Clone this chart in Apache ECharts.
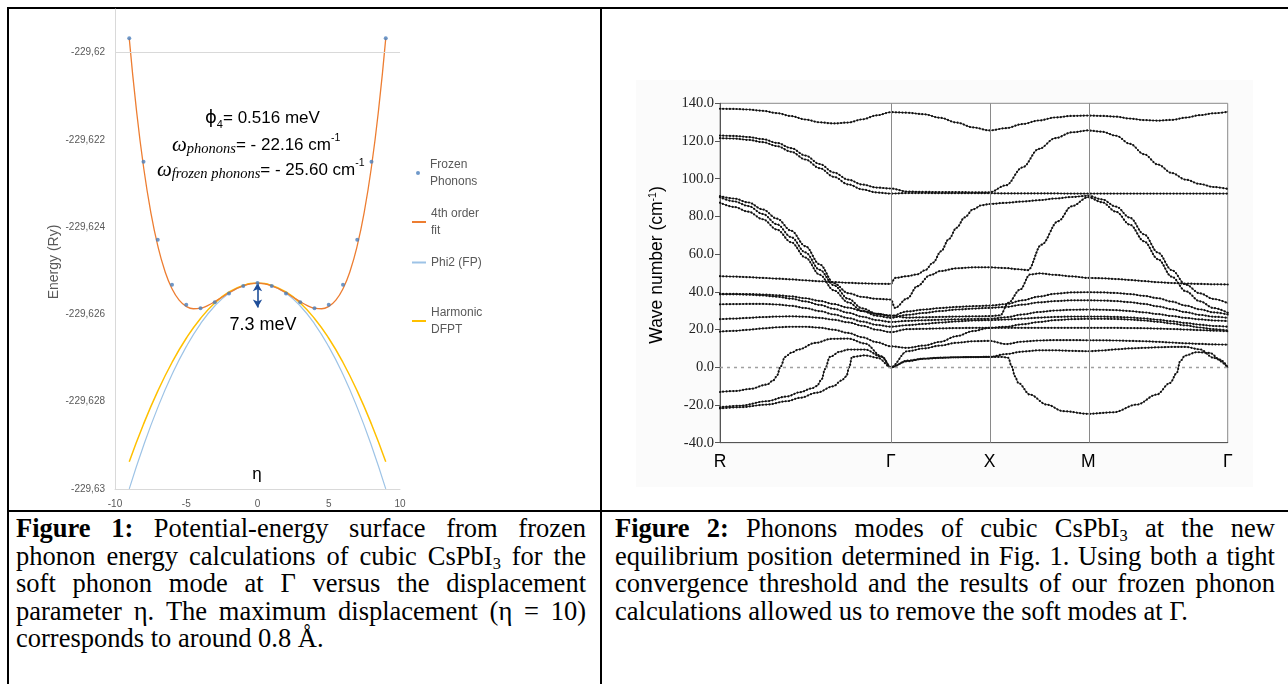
<!DOCTYPE html>
<html>
<head>
<meta charset="utf-8">
<script src="https://cdn.jsdelivr.net/npm/echarts@6/dist/echarts.min.js"></script>
<style>
html,body{margin:0;padding:0;background:#fff;width:1288px;height:684px;overflow:hidden;position:relative;}
#chart{position:absolute;left:0;top:0;width:1288px;height:510px;}
.bd{position:absolute;background:#000;}
.cap{position:absolute;font-family:'Liberation Serif','Times New Roman',serif;font-size:26.5px;line-height:27.6px;color:#000;}
.cap .j{text-align:justify;text-align-last:justify;}
.cap sub{font-size:0.62em;vertical-align:-0.22em;line-height:0;}
</style>
</head>
<body>
<div class="bd" style="left:7px;top:7px;width:2px;height:700px"></div>
<div class="bd" style="left:7px;top:7px;width:1300px;height:2px"></div>
<div class="bd" style="left:600px;top:7px;width:2px;height:700px"></div>
<div class="bd" style="left:7px;top:510px;width:1300px;height:2px"></div>
<div id="chart"></div>
<div class="cap" style="left:16px;top:515px;width:570px">
<div class="j"><b>Figure 1:</b> Potential-energy surface from frozen</div>
<div class="j">phonon energy calculations of cubic CsPbI<sub>3</sub> for the</div>
<div class="j">soft phonon mode at Γ versus the displacement</div>
<div class="j">parameter η. The maximum displacement (η = 10)</div>
<div>corresponds to around 0.8 Å.</div>
</div>
<div class="cap" style="left:615px;top:515px;width:660px">
<div class="j"><b>Figure 2:</b> Phonons modes of cubic CsPbI<sub>3</sub> at the new</div>
<div class="j">equilibrium position determined in Fig. 1. Using both a tight</div>
<div class="j">convergence threshold and the results of our frozen phonon</div>
<div>calculations allowed us to remove the soft modes at Γ.</div>
</div>
<script>
// ---------- Figure 1 data (energy in Ry vs displacement eta) ----------
const etaPoints = [-9,-8,-7,-6,-5,-4,-3,-2,-1,0,1,2,3,4,5,6,7,8,9];
const frozenE = [-229.61967,-229.62250,-229.62429,-229.62532,-229.62578,-229.62586,-229.62572,-229.62552,-229.62535,-229.62528,
                 -229.62535,-229.62552,-229.62572,-229.62586,-229.62578,-229.62532,-229.62429,-229.62250,-229.61967];
const fitEta = [-9,-8.5,-8,-7.5,-7,-6.5,-6,-5.5,-5,-4.5,-4,-3.5,-3,-2.5,-2,-1.5,-1,-0.5,0,
                0.5,1,1.5,2,2.5,3,3.5,4,4.5,5,5.5,6,6.5,7,7.5,8,8.5,9];
const fitE = [-229.619672,-229.621299,-229.622609,-229.623637,-229.624424,-229.625003,-229.625409,-229.625670,-229.625815,
              -229.625869,-229.625856,-229.625796,-229.625707,-229.625605,-229.625504,-229.625414,-229.625343,-229.625298,-229.625283,
              -229.625298,-229.625343,-229.625414,-229.625504,-229.625605,-229.625707,-229.625796,-229.625856,-229.625869,
              -229.625815,-229.625670,-229.625409,-229.625003,-229.624424,-229.623637,-229.622609,-229.621299,-229.619672];
const phi2E = [-229.629997,-229.629008,-229.628135,-229.627378,-229.626738,-229.626214,-229.625807,-229.625516,-229.625341,-229.625283,
               -229.625341,-229.625516,-229.625807,-229.626214,-229.626738,-229.627378,-229.628135,-229.629008,-229.629997];
const harmE = [-229.629374,-229.628515,-229.627758,-229.627101,-229.626546,-229.626091,-229.625738,-229.625485,-229.625334,-229.625283,
               -229.625334,-229.625485,-229.625738,-229.626091,-229.626546,-229.627101,-229.627758,-229.628515,-229.629374];
const leftYTicks = [-229.63,-229.628,-229.626,-229.624,-229.622,-229.62];
const leftXTicks = [-10,-5,0,5,10];
const arrowTop = -229.625283, arrowBottom = -229.62584;

// ---------- Figure 2 data (wave number cm-1 along R-Γ-X-M-Γ) ----------
const kTicks = [0, 0.866, 1.366, 1.866, 2.573];
const kLabels = ['R','Γ','X','M','Γ'];
const kSeg1 = [0,0.072,0.144,0.217,0.289,0.361,0.433,0.505,0.577,0.650,0.722,0.794,0.866];
const kSeg2 = [0.949,1.033,1.116,1.199,1.283,1.366];
const kSeg3 = [1.449,1.533,1.616,1.699,1.783,1.866];
const kSeg4 = [1.937,2.007,2.078,2.149,2.220,2.290,2.361,2.432,2.502,2.573];
const kGrid = kSeg1.concat(kSeg2, kSeg3, kSeg4);

const bandT1 = [137.1,137.0,136.7,136.0,134.8,133.2,131.4,129.9,129.3,129.8,131.5,133.6,135.3,
                135.0,134.2,132.3,129.8,127.2,125.6, 126.8,129.0,130.9,132.5,133.3,133.5,
                133.3,132.9,131.9,131.1,130.8,131.2,132.4,133.7,134.7,135.5];
const bandU1 = [122.9,122.7,122.1,121.0,119.0,116.2,112.3,107.8,103.3,99.5,96.9,95.3,94.8,
                93.2,93.0,92.9,92.9,92.8,92.8, 96.5,106.0,115.8,121.5,124.6,125.6,
                124.9,122.8,118.5,113.0,107.5,103.0,99.5,97.2,95.6,94.6];
const bandU2 = [121.5,121.3,120.6,119.4,117.3,114.3,110.2,105.6,101.0,97.0,94.3,92.7,92.1,
                92.4,92.4,92.3,92.3,92.3,92.3, 92.2,92.2,92.2,92.2,92.1,92.1,
                92.1,92.1,92.1,92.1,92.1,92.1,92.1,92.1,92.1,92.1];
const bandM2 = [90.2,88.0,85.5,81.3,75.8,69.0,60.9,51.7,43.5,36.3,31.2,28.4,27.1,
                29.6,30.6,31.4,32.0,32.4,32.7, 33.5,35.5,37.5,39.0,39.7,39.8,
                39.7,39.4,38.8,37.9,36.6,34.8,32.7,30.7,29.1,28.0];
const bandM3 = [87.3,85.0,82.5,78.5,73.0,66.3,58.2,49.1,40.8,34.4,29.8,27.3,26.2,
                27.8,28.8,29.8,30.6,31.1,31.5, 32.0,33.2,34.4,35.1,35.5,35.5,
                35.4,35.1,34.5,33.6,32.3,30.8,29.2,27.8,26.8,26.2];
const bandL39b = [38.7,38.7,38.5,38.1,37.4,36.4,34.9,33.1,31.0,28.9,26.8,25.0,24.0,
                  24.6,24.9,25.2,25.4,25.6,25.7, 26.5,28.0,29.3,30.1,30.5,30.6,
                  30.5,30.3,29.8,29.1,28.2,27.2,26.2,25.4,24.8,24.5];
const bandL33 = [33.4,33.5,33.6,33.6,33.3,32.6,31.4,29.8,28.0,26.1,24.2,22.5,21.5,
                 22.3,23.0,23.7,24.3,24.8,25.0, 25.3,25.8,26.3,26.7,26.9,26.9,
                 26.9,26.7,26.4,25.9,25.2,24.4,23.5,22.6,21.9,21.5];
const bandL25 = [25.5,25.8,26.2,26.6,26.9,27.0,26.8,26.2,25.2,23.8,22.0,19.9,18.6,
                 20.2,20.4,20.6,20.8,20.9,20.9, 21.5,22.8,24.0,25.0,25.5,25.7,
                 25.7,25.6,25.3,24.8,24.1,23.2,22.2,21.1,20.2,19.5];
const bandL19 = [18.9,19.3,19.9,20.6,21.2,21.5,21.5,21.0,19.9,18.2,15.9,13.3,11.1,
                 10.3,11.5,13.5,16.5,19.2,20.9, 20.9,20.9,20.9,20.9,20.9,20.9,
                 20.9,20.9,20.8,20.7,20.5,20.3,20.0,19.7,19.4,19.1];

const bandB48 = [[0,48.3],[0.072,48.1],[0.144,47.8],[0.217,47.4],[0.289,47.0],[0.361,46.6],[0.433,46.1],[0.505,45.6],
  [0.577,45.2],[0.650,44.8],[0.722,44.5],[0.794,44.3],[0.866,44.2],[0.887,47.4],[0.949,48.3],[1.000,49.3],[1.040,51.5],
  [1.080,55.5],[1.120,61.5],[1.160,68.0],[1.199,74.0],[1.240,79.5],[1.283,83.8],[1.325,85.9],[1.366,86.6],
  [1.449,87.2],[1.533,87.9],[1.616,88.6],[1.699,89.5],[1.783,90.3],
  [1.866,91.0],[1.937,89.0],[2.007,85.2],[2.078,79.3],[2.149,70.5],[2.220,60.8],[2.290,51.5],[2.361,43.8],[2.432,39.2],
  [2.502,36.2],[2.573,34.0]];
const bandM1 = [[0,90.8],[0.072,89.5],[0.144,87.4],[0.217,83.7],[0.289,78.8],[0.361,72.4],[0.433,64.2],[0.505,54.6],
  [0.577,44.6],[0.650,39.3],[0.722,37.3],[0.794,36.3],[0.866,35.9],[0.887,31.5],[0.949,36.5],[1.000,43.0],[1.064,48.8],
  [1.116,51.0],[1.199,52.5],[1.283,53.0],[1.366,53.0],[1.449,52.6],[1.510,52.0],[1.561,51.5],[1.629,65.0],[1.714,77.5],
  [1.782,85.4],[1.866,90.2],[1.937,87.5],[2.007,82.5],[2.078,75.6],[2.149,66.8],[2.220,57.3],[2.290,48.0],[2.361,40.3],
  [2.432,35.0],[2.502,31.4],[2.573,28.9]];
const bandL39a = [[0,38.9],[0.072,38.9],[0.144,38.8],[0.217,38.6],[0.289,38.2],[0.361,37.6],[0.433,36.6],[0.505,35.2],
  [0.577,33.5],[0.650,31.6],[0.722,29.8],[0.794,28.3],[0.866,27.5],[0.949,26.3],[1.033,26.5],[1.116,26.7],[1.199,26.9],
  [1.283,27.0],[1.366,27.1],[1.420,27.5],[1.461,34.2],[1.521,41.2],[1.571,49.2],[1.620,49.8],[1.700,49.0],[1.783,48.2],
  [1.866,47.4],[1.937,47.2],[2.007,46.8],[2.078,46.3],[2.149,45.7],[2.220,45.1],[2.290,44.7],[2.361,44.4],[2.432,44.2],
  [2.502,44.0],[2.573,43.9]];
const bandN13 = [[0,-13.1],[0.076,-12.6],[0.152,-11.5],[0.237,-9.2],[0.270,-7.0],[0.287,-4.8],[0.308,0.5],[0.329,5.5],
  [0.363,7.8],[0.397,9.4],[0.482,12.9],[0.566,15.1],[0.650,15.2],[0.735,12.6],[0.820,5.8],[0.866,0],
  [0.949,3.5],[1.033,4.6],[1.116,5.1],[1.199,5.3],[1.283,5.4],[1.366,5.5],[1.449,7.0],[1.533,8.3],[1.616,9.0],
  [1.699,9.0],[1.783,8.7],[1.866,8.5],[1.937,8.9],[2.007,9.5],[2.078,10.0],[2.149,10.3],[2.220,10.6],[2.290,10.8],
  [2.361,10.8],[2.432,9.5],[2.502,5.0],[2.573,0]];
const bandN21a = [[0,-21.2],[0.101,-20.4],[0.236,-18.0],[0.338,-15.5],[0.406,-13.2],[0.465,-11.2],[0.490,-10.0],
  [0.515,-6.5],[0.532,-1.0],[0.557,5.5],[0.608,8.3],[0.650,9.4],[0.735,9.4],[0.820,5.5],[0.866,0],
  [0.949,3.2],[1.033,4.5],[1.116,5.0],[1.199,5.3],[1.283,5.4],[1.366,5.5],[1.432,5.5],[1.461,5.0],[1.478,0.5],
  [1.495,-4.8],[1.512,-8.3],[1.571,-14.5],[1.656,-19.8],[1.740,-23.3],[1.866,-24.7],[1.993,-23.9],[2.112,-19.8],
  [2.213,-14.5],[2.281,-8.3],[2.315,-3.0],[2.332,3.2],[2.357,6.2],[2.416,8.0],[2.483,7.6],[2.534,4.1],[2.573,0]];
const bandN21b = [[0,-21.8],[0.101,-21.2],[0.236,-19.8],[0.338,-18.0],[0.406,-16.2],[0.490,-13.5],[0.574,-10.1],
  [0.616,-7.0],[0.640,-4.8],[0.655,0.0],[0.669,5.5],[0.735,6.3],[0.800,5.0],[0.866,0],
  [0.949,8.5],[1.033,10.0],[1.116,11.5],[1.199,13.0],[1.283,13.8],[1.366,14.0],[1.449,12.3],[1.533,13.6],[1.616,14.2],
  [1.699,14.4],[1.783,14.4],[1.866,14.3],[1.937,14.3],[2.007,14.2],[2.078,14.0],[2.149,13.8],[2.220,13.5],[2.290,13.1],
  [2.361,12.7],[2.432,12.4],[2.502,12.1],[2.573,12.0]];
const rightYTicksMin = -40, rightYTicksMax = 140, rightYStep = 20;

// ---------- build ----------
const onGrid = vals => kGrid.map((k, i) => [k, vals[i]]);
const bands = [onGrid(bandT1), onGrid(bandU1), onGrid(bandU2), bandB48, bandM1, onGrid(bandM2), onGrid(bandM3),
  bandL39a, onGrid(bandL39b), onGrid(bandL33), onGrid(bandL25), onGrid(bandL19), bandN13, bandN21a, bandN21b];

const chart = echarts.init(document.getElementById('chart'));
const grayTxt = '#595959';
const narrow = "'Liberation Sans Narrow','Liberation Sans',Arial,sans-serif";
const sans = "'Liberation Sans',Arial,sans-serif";
const serif = "'Liberation Serif','Times New Roman',serif";

function fmtRy(v) {
  const n = (v - leftYTicks[0]) / 0.002;
  if (Math.abs(n - Math.round(n)) > 1e-4) return '';
  return String(+v.toFixed(3)).replace('.', ',');
}

const series = [];
series.push({type:'line', xAxisIndex:0, yAxisIndex:0, data:[[0, leftYTicks[0]]], showSymbol:false, z:1, silent:true,
  lineStyle:{opacity:0},
  markLine:{silent:true, symbol:['none','none'], label:{show:false}, animation:false,
    lineStyle:{color:'#d9d9d9', width:1, type:'solid'},
    data: leftYTicks.slice(1).map(v => ({yAxis: v}))}});
series.push({name:'Phi2 (FP)', type:'line', xAxisIndex:0, yAxisIndex:0, smooth:true, symbol:'none', z:2,
  data: etaPoints.map((e,i)=>[e, phi2E[i]]), lineStyle:{color:'#9dc3e6', width:1.2}, itemStyle:{color:'#9dc3e6'}});
series.push({name:'Harmonic DFPT', type:'line', xAxisIndex:0, yAxisIndex:0, smooth:true, symbol:'none', z:3,
  data: etaPoints.map((e,i)=>[e, harmE[i]]), lineStyle:{color:'#ffc000', width:1.5}, itemStyle:{color:'#ffc000'}});
series.push({name:'4th order fit', type:'line', xAxisIndex:0, yAxisIndex:0, smooth:true, symbol:'none', z:4,
  data: fitEta.map((e,i)=>[e, fitE[i]]), lineStyle:{color:'#ed7d31', width:1.3}, itemStyle:{color:'#ed7d31'},
  markLine:{silent:true, symbol:['arrow','arrow'], symbolSize:[7,8], label:{show:false}, animation:false,
    lineStyle:{color:'#1f4e99', width:1.6, type:'solid'},
    data:[[{coord:[0, arrowTop]},{coord:[0, arrowBottom]}]]}});
series.push({name:'Frozen Phonons', type:'scatter', xAxisIndex:0, yAxisIndex:0, symbol:'circle', symbolSize:4, z:5,
  data: etaPoints.map((e,i)=>[e, frozenE[i]]), itemStyle:{color:'#4a7ebb'}});

series.push({type:'line', xAxisIndex:1, yAxisIndex:1, data:[[0,0]], showSymbol:false, z:1, silent:true,
  lineStyle:{opacity:0},
  markLine:{silent:true, symbol:['none','none'], label:{show:false}, animation:false,
    data: kTicks.slice(1, 4).map(k => ({xAxis:k, lineStyle:{color:'#8a8a8a', width:1, type:'solid'}}))
      .concat([{yAxis:0, lineStyle:{color:'#a0a0a0', width:1.3, type:[3,4]}}])}});
bands.forEach((d, i) => {
  series.push({name:'mode'+(i+1), type:'line', xAxisIndex:1, yAxisIndex:1, data:d, smooth:0.35, smoothMonotone:'x',
    symbol:'none', silent:true, z:3, lineStyle:{color:'#1c1c1c', width:0.9}});
  series.push({name:'mode'+(i+1)+'b', type:'line', xAxisIndex:1, yAxisIndex:1, data:d, smooth:0.35, smoothMonotone:'x',
    symbol:'none', silent:true, z:4, lineStyle:{color:'#111', width:2.2, type:[0.01,3.3], cap:'round'}});
});

const legendNames = {'Frozen Phonons':'Frozen\nPhonons','4th order fit':'4th order\nfit','Phi2 (FP)':'Phi2 (FP)','Harmonic DFPT':'Harmonic\nDFPT'};
const mkLegend = (name, left, top, icon, iw, ih) => ({data:[{name, icon}], left, top, orient:'vertical', padding:0,
  itemWidth:iw, itemHeight:ih, itemGap:0, selectedMode:false, formatter: n => legendNames[n],
  textStyle:{color:grayTxt, fontSize:12, lineHeight:17, fontFamily:sans}});

chart.setOption({
  animation:false,
  backgroundColor:'transparent',
  grid:[
    {left:115, top:9, width:285, height:480},
    {left:720, top:103.3, width:507.7, height:339.4, show:true, borderColor:'#8a8a8a', borderWidth:1, backgroundColor:'#fff'}
  ],
  xAxis:[
    {gridIndex:0, type:'value', min:leftXTicks[0], max:leftXTicks[leftXTicks.length-1], interval:5,
      axisLine:{show:true, onZero:false, lineStyle:{color:'#d9d9d9', width:1}}, axisTick:{show:false}, splitLine:{show:false},
      axisLabel:{color:grayTxt, fontSize:10, fontFamily:narrow, margin:10}},
    {gridIndex:1, type:'value', min:kTicks[0], max:kTicks[kTicks.length-1],
      axisLine:{show:true, onZero:false, lineStyle:{color:'#555', width:1}}, axisTick:{show:false}, splitLine:{show:false},
      axisLabel:{customValues:kTicks, color:'#000', fontSize:17.5, fontFamily:sans, margin:10,
        formatter: v => { const i = kTicks.findIndex(t => Math.abs(t - v) < 1e-3); return i >= 0 ? kLabels[i] : ''; }}}
  ],
  yAxis:[
    {gridIndex:0, type:'value', min:leftYTicks[0], max:-229.619, interval:0.002,
      axisLine:{show:true, onZero:false, lineStyle:{color:'#d9d9d9', width:1}}, axisTick:{show:false}, splitLine:{show:false},
      axisLabel:{color:grayTxt, fontSize:10, fontFamily:narrow, margin:10, formatter: fmtRy},
      name:'Energy (Ry)', nameLocation:'middle', nameGap:53, nameRotate:90,
      nameTextStyle:{color:grayTxt, fontSize:14, fontFamily:sans, padding:[0,26,0,0]}},
    {gridIndex:1, type:'value', min:rightYTicksMin, max:rightYTicksMax, interval:rightYStep,
      axisLine:{show:true, onZero:false, lineStyle:{color:'#555', width:1}},
      axisTick:{show:true, length:5, lineStyle:{color:'#555'}}, splitLine:{show:false},
      axisLabel:{color:'#222', fontSize:14.5, fontFamily:serif, margin:6, formatter: v => v.toFixed(1)},
      name:'Wave number (cm{sup|-1})', nameLocation:'middle', nameGap:54, nameRotate:90,
      nameTextStyle:{color:'#000', fontSize:17.5, fontFamily:sans, padding:[0,0,0,16],
        rich:{sup:{fontSize:10.5, fontFamily:sans, color:'#000', verticalAlign:'top', lineHeight:12}}}}
  ],
  legend:[
    mkLegend('Frozen Phonons', 416, 156, 'circle', 14, 4),
    mkLegend('4th order fit', 412, 205, 'rect', 14, 2),
    mkLegend('Phi2 (FP)', 412, 254, 'rect', 14, 2),
    mkLegend('Harmonic DFPT', 412, 304, 'rect', 14, 2)
  ],
  graphic:[
    {type:'rect', z:-10, silent:true, shape:{x:636, y:80, width:617, height:407}, style:{fill:'#fbfbfb'}},
    {type:'text', x:205, y:118, silent:true, style:{text:'{p|ϕ}{s|4}{t|= 0.516 meV}', verticalAlign:'middle', align:'left',
      rich:{p:{fontSize:18, fontFamily:"'DejaVu Sans',sans-serif", lineHeight:24, fill:'#000'},
            s:{fontSize:11, fontFamily:sans, lineHeight:12, verticalAlign:'bottom', fill:'#000'},
            t:{fontSize:17, fontFamily:sans, lineHeight:24, fill:'#000'}}}},
    {type:'text', x:172, y:145, silent:true, style:{text:'{w|ω}{s|phonons}{t|= - 22.16 cm}{u|-1}', verticalAlign:'middle', align:'left',
      rich:{w:{fontSize:21, fontFamily:serif, fontStyle:'italic', lineHeight:24, fill:'#000'},
            s:{fontSize:14.5, fontFamily:serif, fontStyle:'italic', lineHeight:14, verticalAlign:'bottom', fill:'#000'},
            t:{fontSize:17, fontFamily:sans, lineHeight:24, fill:'#000'},
            u:{fontSize:10.5, fontFamily:sans, lineHeight:12, verticalAlign:'top', fill:'#000'}}}},
    {type:'text', x:157, y:170, silent:true, style:{text:'{w|ω}{s|frozen phonons}{t|= - 25.60 cm}{u|-1}', verticalAlign:'middle', align:'left',
      rich:{w:{fontSize:21, fontFamily:serif, fontStyle:'italic', lineHeight:24, fill:'#000'},
            s:{fontSize:14.5, fontFamily:serif, fontStyle:'italic', lineHeight:14, verticalAlign:'bottom', fill:'#000'},
            t:{fontSize:17, fontFamily:sans, lineHeight:24, fill:'#000'},
            u:{fontSize:10.5, fontFamily:sans, lineHeight:12, verticalAlign:'top', fill:'#000'}}}},
    {type:'text', x:263, y:325, silent:true, style:{text:'7.3 meV', font:"18px 'Liberation Sans', Arial, sans-serif", fill:'#000', align:'center', verticalAlign:'middle'}},
    {type:'text', x:257, y:474, silent:true, style:{text:'η', font:"17px 'Liberation Sans', Arial, sans-serif", fill:'#000', align:'center', verticalAlign:'middle'}}
  ],
  series: series
});
</script>
</body>
</html>
